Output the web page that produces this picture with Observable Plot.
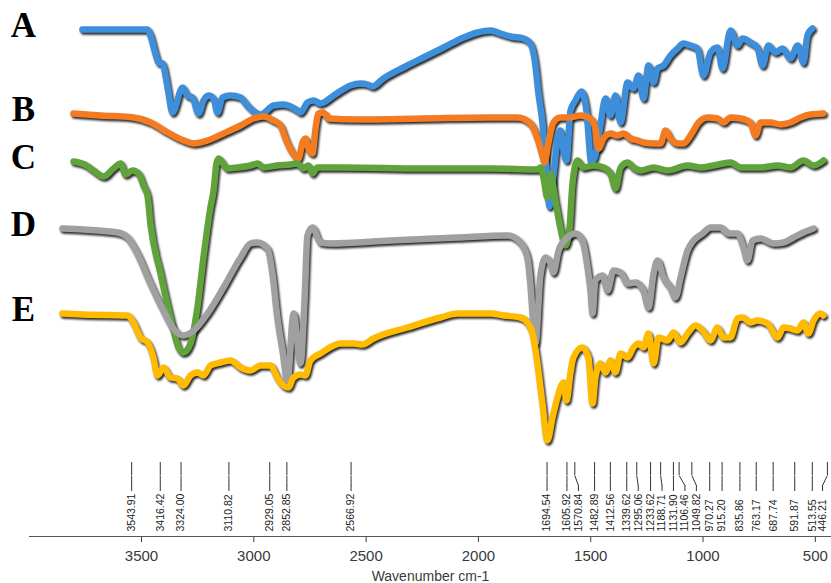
<!DOCTYPE html>
<html>
<head>
<meta charset="utf-8">
<script src="https://cdn.jsdelivr.net/npm/d3@7"></script>
<script src="https://cdn.jsdelivr.net/npm/@observablehq/plot@0.6"></script>
<style>
  html, body { margin: 0; padding: 0; background: #fff; }
  svg { display: block; }
</style>
</head>
<body>
<div id="chart"></div>
<script>
// FTIR spectra A–E, stacked with vertical offsets (relative transmittance, a.u.)
const seriesNames = ["A", "B", "C", "D", "E"];
const seriesColors = ["#3d8fdc", "#f47b20", "#5fa33a", "#a0a0a0", "#ffbb00"];

// [wavenumber (cm-1), offset transmittance]
const traceA = [[3763,421],[3473,421],[3460,415],[3438,397],[3424,388],[3406,387],[3393,375],[3380,358],[3362,338],[3317,363],[3295,355],[3273,353],[3246,337],[3224,350],[3202,355],[3179,352],[3162,338],[3139,353],[3104,355],[3059,353],[3028,345],[2992,338],[2970,336],[2912,345],[2868,346],[2837,344],[2805,340],[2792,338],[2761,348],[2734,350],[2703,347],[2645,355],[2570,365],[2525,367],[2494,366],[2472,364],[2423,372],[2334,383],[2245,393],[2155,403],[2066,413],[2004,418],[1946,420],[1902,417],[1857,414],[1799,412],[1768,407],[1746,385],[1733,358],[1715,328],[1706,305],[1693,270],[1684,244],[1666,275],[1648,310],[1635,320],[1621,300],[1608,290],[1590,340],[1568,350],[1541,359],[1519,340],[1497,288],[1474,300],[1457,325],[1434,352],[1412,335],[1390,355],[1367,328],[1336,368],[1310,362],[1287,375],[1265,352],[1243,385],[1220,368],[1203,382],[1176,385],[1145,395],[1114,402],[1087,407],[1056,405],[1025,402],[998,375],[967,398],[936,403],[913,382],[878,420],[847,405],[824,412],[789,408],[758,403],[735,385],[709,405],[677,398],[646,402],[611,392],[579,405],[553,388],[535,415],[513,422]];

const traceB = [[3803,337],[3683,335],[3536,333],[3460,328],[3384,318],[3313,310],[3268,307],[3206,310],[3135,317],[3059,325],[3001,332],[2957,334],[2912,330],[2881,325],[2859,312],[2828,298],[2801,292],[2783,308],[2770,312],[2757,302],[2739,297],[2725,322],[2712,337],[2690,338],[2667,332],[2538,331],[2245,332],[1946,333],[1826,333],[1768,327],[1737,312],[1715,295],[1706,288],[1688,308],[1666,328],[1635,333],[1590,333],[1546,335],[1501,332],[1479,322],[1465,302],[1443,312],[1412,317],[1381,315],[1354,317],[1323,312],[1292,310],[1265,308],[1220,307],[1189,307],[1167,320],[1145,312],[1114,307],[1087,307],[1056,315],[1020,328],[980,333],[936,332],[909,328],[878,333],[833,332],[789,328],[766,315],[744,328],[700,328],[655,326],[611,328],[566,333],[522,336],[464,337]];

const traceC = [[3803,289],[3745,285],[3714,280],[3669,274],[3625,282],[3593,287],[3571,276],[3540,280],[3513,277],[3491,265],[3473,255],[3460,227],[3415,177],[3371,133],[3335,103],[3313,98],[3282,107],[3251,143],[3224,193],[3193,243],[3179,260],[3166,287],[3157,292],[3117,282],[3073,283],[3015,285],[2983,287],[2957,283],[2895,285],[2837,286],[2806,287],[2779,282],[2757,285],[2739,277],[2717,283],[2614,283],[2245,282],[1946,282],[1737,281],[1724,283],[1710,273],[1693,253],[1679,277],[1657,250],[1635,223],[1612,205],[1594,223],[1581,267],[1559,290],[1532,283],[1488,285],[1443,283],[1412,277],[1390,262],[1367,283],[1336,288],[1310,283],[1278,280],[1220,283],[1158,280],[1069,285],[1011,283],[953,285],[878,288],[833,283],[744,283],[668,285],[611,283],[553,290],[508,285],[464,290]];

const traceD = [[3852,222],[3758,221],[3607,218],[3562,213],[3518,197],[3460,167],[3402,140],[3358,122],[3313,115],[3268,120],[3206,137],[3135,163],[3059,193],[3015,207],[2984,208],[2939,202],[2917,177],[2895,133],[2872,100],[2850,70],[2823,137],[2792,87],[2774,150],[2761,215],[2739,223],[2703,208],[2658,207],[2391,210],[2093,213],[1870,215],[1813,208],[1782,193],[1768,165],[1755,125],[1746,107],[1724,175],[1701,193],[1679,187],[1666,178],[1643,200],[1604,213],[1568,217],[1537,210],[1514,183],[1501,160],[1492,137],[1479,170],[1448,175],[1425,160],[1399,180],[1367,178],[1336,167],[1301,168],[1265,160],[1243,143],[1220,177],[1203,190],[1176,173],[1145,163],[1123,153],[1100,173],[1069,200],[1042,210],[1002,217],[967,223],[922,223],[887,217],[847,217],[820,203],[802,190],[780,210],[744,212],[686,207],[642,208],[597,213],[553,218],[508,222]];

const traceE = [[3852,137],[3758,136],[3562,135],[3536,128],[3504,113],[3473,108],[3447,93],[3429,75],[3402,83],[3371,73],[3340,72],[3313,65],[3282,75],[3251,78],[3224,75],[3193,85],[3148,88],[3104,90],[3059,83],[3015,80],[2970,85],[2926,85],[2895,73],[2868,65],[2846,63],[2823,73],[2792,76],[2770,75],[2748,90],[2703,97],[2614,107],[2556,107],[2516,106],[2467,112],[2316,123],[2169,133],[2093,137],[1946,137],[1888,135],[1813,133],[1782,128],[1759,117],[1737,87],[1715,47],[1693,10],[1670,33],[1648,53],[1621,68],[1608,50],[1590,78],[1577,93],[1537,103],[1510,93],[1492,47],[1479,73],[1457,87],[1434,78],[1412,90],[1390,78],[1367,97],[1336,93],[1310,103],[1287,107],[1265,103],[1243,117],[1220,87],[1198,113],[1158,110],[1132,118],[1100,108],[1069,117],[1034,125],[1002,120],[967,110],[936,123],[909,113],[878,113],[847,132],[824,133],[789,128],[758,130],[713,127],[668,113],[642,123],[611,122],[579,120],[553,128],[531,117],[508,130],[477,137],[464,135]];

// Assigned band positions (cm-1)
const peakLabels = [3543.91, 3416.42, 3324.00, 3110.82, 2929.05, 2852.85, 2566.92, 1694.54, 1605.92, 1570.84, 1482.89, 1412.56, 1339.62, 1295.06, 1233.62, 1188.71, 1131.90, 1106.46, 1049.82, 970.27, 915.20, 835.86, 763.17, 687.74, 591.87, 513.55, 446.21];

// Axis ticks
const xTicks = [3500, 3000, 2500, 2000, 1500, 1000, 500];

// ---- build tables ----
const traces = [traceA, traceB, traceC, traceD, traceE];
const rows = traces.flatMap((t, i) => t.map(([wavenumber, intensity]) => ({series: seriesNames[i], wavenumber, intensity})));
const starts = traces.map((t, i) => ({series: seriesNames[i], intensity: t[0][1]}));

// Spread crowded band labels apart (minimum spacing in cm-1), keeping leaders at the true band;
// the last label is held inside the right edge
const LABEL_GAP = 51, LABEL_MIN = 468;
let prev = Infinity;
const peaks = [...peakLabels].sort((a, b) => b - a).map(v => {
  const lv = Math.max(LABEL_MIN, Math.min(v, prev - LABEL_GAP));
  prev = lv;
  return {v, lv};
});

// Vertical layout of the band-marker strip below the spectra (in y units)
const LEAD_TOP = -12, LEAD_BEND1 = -25, LEAD_BEND2 = -35, LEAD_BOTTOM = -41, LABEL_BASE = -81, AXIS_BASE = -86;

const lineOpts = {x: "wavenumber", y: "intensity", z: "series", strokeWidth: 6.5, curve: "monotone-x", strokeLinejoin: "round", strokeLinecap: "round"};

const chart = Plot.plot({
  width: 831,
  height: 583,
  marginLeft: 29,
  marginRight: 0,
  marginTop: 0,
  marginBottom: 47,
  style: {fontFamily: "Arial, 'Liberation Sans', sans-serif", fontSize: "15px", color: "#3a3a3a", background: "#fff"},
  x: {domain: [4000, 400], range: [28.7, 837.3], ticks: xTicks, tickSize: 6, tickPadding: 8, tickFormat: d => String(d), label: null},
  y: {domain: [0, 430], range: [450, 20], axis: null},
  color: {domain: seriesNames, range: seriesColors},
  marks: [
    // drop shadows
    ...seriesNames.map(s => Plot.line(rows.filter(r => r.series === s), {...lineOpts, stroke: "#000", strokeOpacity: 0.85, dx: 1.5, dy: 2, ariaDescription: "shadow"})),
    // spectra
    ...seriesNames.map(s => Plot.line(rows.filter(r => r.series === s), {...lineOpts, stroke: "series"})),
    // series letters
    Plot.text(starts, {y: "intensity", text: "series", frameAnchor: "left", dx: -6, dy: -4, textAnchor: "middle", lineAnchor: "middle", fontFamily: "'Liberation Serif', 'Times New Roman', serif", fontWeight: "bold", fontSize: 35, fill: "#000"}),
    // band markers
    Plot.ruleX(peaks, {x: "v", y1: LEAD_TOP, y2: LEAD_BEND1, stroke: "#333", strokeWidth: 1}),
    Plot.link(peaks, {x1: "v", x2: "lv", y1: LEAD_BEND1, y2: LEAD_BEND2, stroke: "#333", strokeWidth: 1}),
    Plot.ruleX(peaks, {x: "lv", y1: LEAD_BEND2, y2: LEAD_BOTTOM, stroke: "#333", strokeWidth: 1}),
    Plot.text(peaks, {x: "lv", y: LABEL_BASE, text: d => d.v.toFixed(2), rotate: -90, textAnchor: "start", lineAnchor: "middle", fontSize: 10.5, fill: "#222"}),
    // axis baseline and title
    Plot.ruleY([AXIS_BASE], {stroke: "#555", strokeWidth: 1}),
    Plot.text(["Wavenumber cm-1"], {frameAnchor: "bottom", dy: 40, lineAnchor: "middle", fontSize: 14, fill: "#3a3a3a"})
  ]
});

document.getElementById("chart").append(chart);

// soften the drop shadows
const svg = d3.select(chart);
const f = svg.append("defs").append("filter").attr("id", "shadowBlur").attr("x", "-5%").attr("y", "-5%").attr("width", "110%").attr("height", "110%");
f.append("feGaussianBlur").attr("stdDeviation", 0.9);
svg.selectAll('g[aria-description="shadow"]').attr("filter", "url(#shadowBlur)");
</script>
</body>
</html>
